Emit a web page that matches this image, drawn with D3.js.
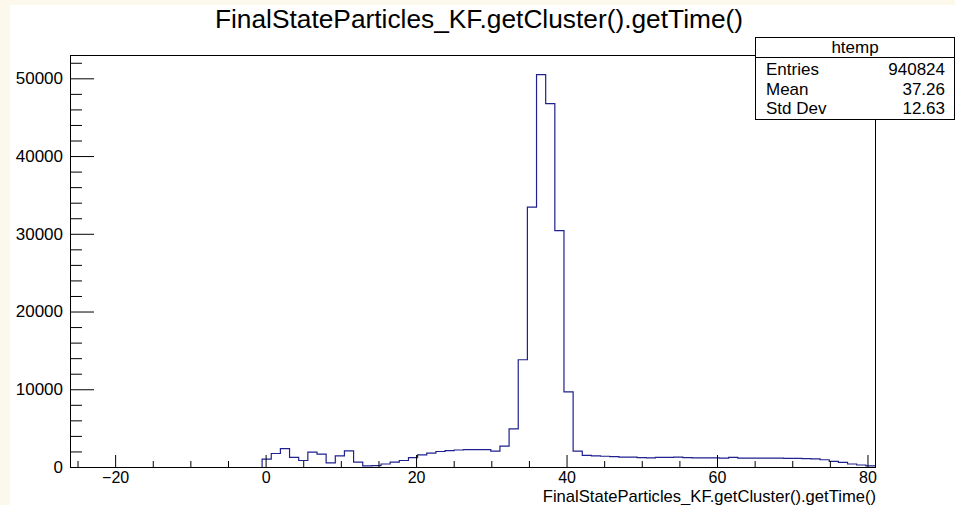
<!DOCTYPE html>
<html>
<head>
<meta charset="utf-8">
<script src="https://cdn.jsdelivr.net/npm/d3@7/dist/d3.min.js"></script>
<style>
  html, body { margin: 0; padding: 0; background: #fdf8ec; }
  svg { display: block; }
  text { font-family: "Liberation Sans", Arial, Helvetica, sans-serif; fill: #000; }
</style>
</head>
<body>
<svg id="chart" width="955" height="505"></svg>
<script>
// ---- data ----
const title = "FinalStateParticles_KF.getCluster().getTime()";
const xTitle = "FinalStateParticles_KF.getCluster().getTime()";
const histName = "htemp";
const statLabels = ["Entries", "Mean", "Std Dev"];
const statValues = ["940824", "37.26", "12.63"];
const xMin = -26, xMax = 81, nBins = 88;
const yMax = 53000;
// bin contents (88 bins from xMin to xMax)
const counts = [
  0,0,0,0,0,0,0,0,0,0, 0,0,0,0,0,0,0,0,0,0, 0,
  1070,1800,2440,1290,900,1970,1710,600,1500,2140,
  680,200,230,450,700,900,1270,1630,1840,2060,
  2180,2250,2300,2300,2300,2100,2740,4980,13860,33500,
  50540,46800,30460,9740,2100,1550,1500,1450,1400,1330,
  1330,1260,1250,1290,1290,1330,1260,1250,1250,1250,
  1200,1290,1200,1200,1200,1200,1200,1180,1180,1150,
  1100,1000,800,650,450,320,200
];
const xMajorTicks = [-20, 0, 20, 40, 60, 80];
const xMinorTicks = [-25, -15, -10, -5, 5, 10, 15, 25, 30, 35, 45, 50, 55, 65, 70, 75];
const yMajorTicks = [0, 10000, 20000, 30000, 40000, 50000];
const yMinorTicks = [2000,4000,6000,8000,12000,14000,16000,18000,22000,24000,26000,28000,
                     32000,34000,36000,38000,42000,44000,46000,48000,52000];

// ---- layout ----
const W = 955, H = 505;
const frame = { left: 70, right: 875, top: 55, bottom: 467 };
const svg = d3.select("#chart");

svg.append("rect").attr("x", 10).attr("y", 5).attr("width", W - 10).attr("height", H - 5).attr("fill", "#fff");

const x = d3.scaleLinear().domain([xMin, xMax]).range([frame.left, frame.right]);
const y = d3.scaleLinear().domain([0, yMax]).range([frame.bottom, frame.top]);

// histogram step outline
const bw = (xMax - xMin) / nBins;
const pts = [];
counts.forEach((c, i) => {
  const x0 = xMin + i * bw, x1 = xMin + (i + 1) * bw;
  pts.push([x(x0), y(c)]);
  pts.push([x(x1), y(c)]);
});
svg.append("path")
  .attr("transform", "translate(0,0.5)")
  .attr("d", d3.line()(pts))
  .attr("fill", "none")
  .attr("stroke", "#20208f")
  .attr("stroke-width", 1.2);

// axes
const gx = svg.append("g").attr("transform", `translate(0,${frame.bottom})`);
gx.call(d3.axisBottom(x).tickValues(xMinorTicks).tickSize(-6).tickSizeOuter(0).tickFormat(""));
const gx2 = svg.append("g").attr("class", "xmaj").attr("transform", `translate(0,${frame.bottom})`);
gx2.call(d3.axisBottom(x).tickValues(xMajorTicks).tickSize(-12).tickSizeOuter(0).tickPadding(5));

const gy = svg.append("g").attr("transform", `translate(${frame.left},0)`);
gy.call(d3.axisLeft(y).tickValues(yMinorTicks).tickSize(-12).tickSizeOuter(0).tickFormat(""));
const gy2 = svg.append("g").attr("class", "ymaj").attr("transform", `translate(${frame.left},0)`);
gy2.call(d3.axisLeft(y).tickValues(yMajorTicks).tickSize(-24).tickSizeOuter(0).tickPadding(7).tickFormat(d3.format("d")));

svg.selectAll(".domain").remove();
svg.selectAll(".tick line").attr("stroke", "#000");
svg.selectAll(".ymaj .tick text").style("font-size", "17px").attr("fill", "#000");
svg.selectAll(".xmaj .tick text").style("font-size", "16px").attr("fill", "#000");

// frame
svg.append("rect")
  .attr("x", frame.left + 0.5).attr("y", frame.top + 0.5)
  .attr("width", frame.right - frame.left).attr("height", frame.bottom - frame.top)
  .attr("fill", "none").attr("stroke", "#000");

// title
svg.append("text").attr("x", 479).attr("y", 28).attr("text-anchor", "middle")
  .style("font-size", "26.3px").text(title);

// x axis title
svg.append("text").attr("x", frame.right + 1).attr("y", 501.5).attr("text-anchor", "end")
  .style("font-size", "16.6px").text(xTitle);

// stats box
const box = { left: 755.5, right: 954.5, top: 37.5, sep: 57.5, bottom: 119.5 };
svg.append("rect").attr("x", box.left).attr("y", box.top)
  .attr("width", box.right - box.left).attr("height", box.bottom - box.top)
  .attr("fill", "#fff").attr("stroke", "#000");
svg.append("line").attr("x1", box.left).attr("x2", box.right).attr("y1", box.sep).attr("y2", box.sep)
  .attr("stroke", "#000");
svg.append("text").attr("x", (box.left + box.right) / 2).attr("y", 53).attr("text-anchor", "middle")
  .style("font-size", "17px").text(histName);
const rowY = [75, 95, 114];
statLabels.forEach((l, i) => {
  svg.append("text").attr("x", 766).attr("y", rowY[i]).style("font-size", "17px").text(l);
  svg.append("text").attr("x", 945).attr("y", rowY[i]).attr("text-anchor", "end")
    .style("font-size", "17px").text(statValues[i]);
});
</script>
</body>
</html>
